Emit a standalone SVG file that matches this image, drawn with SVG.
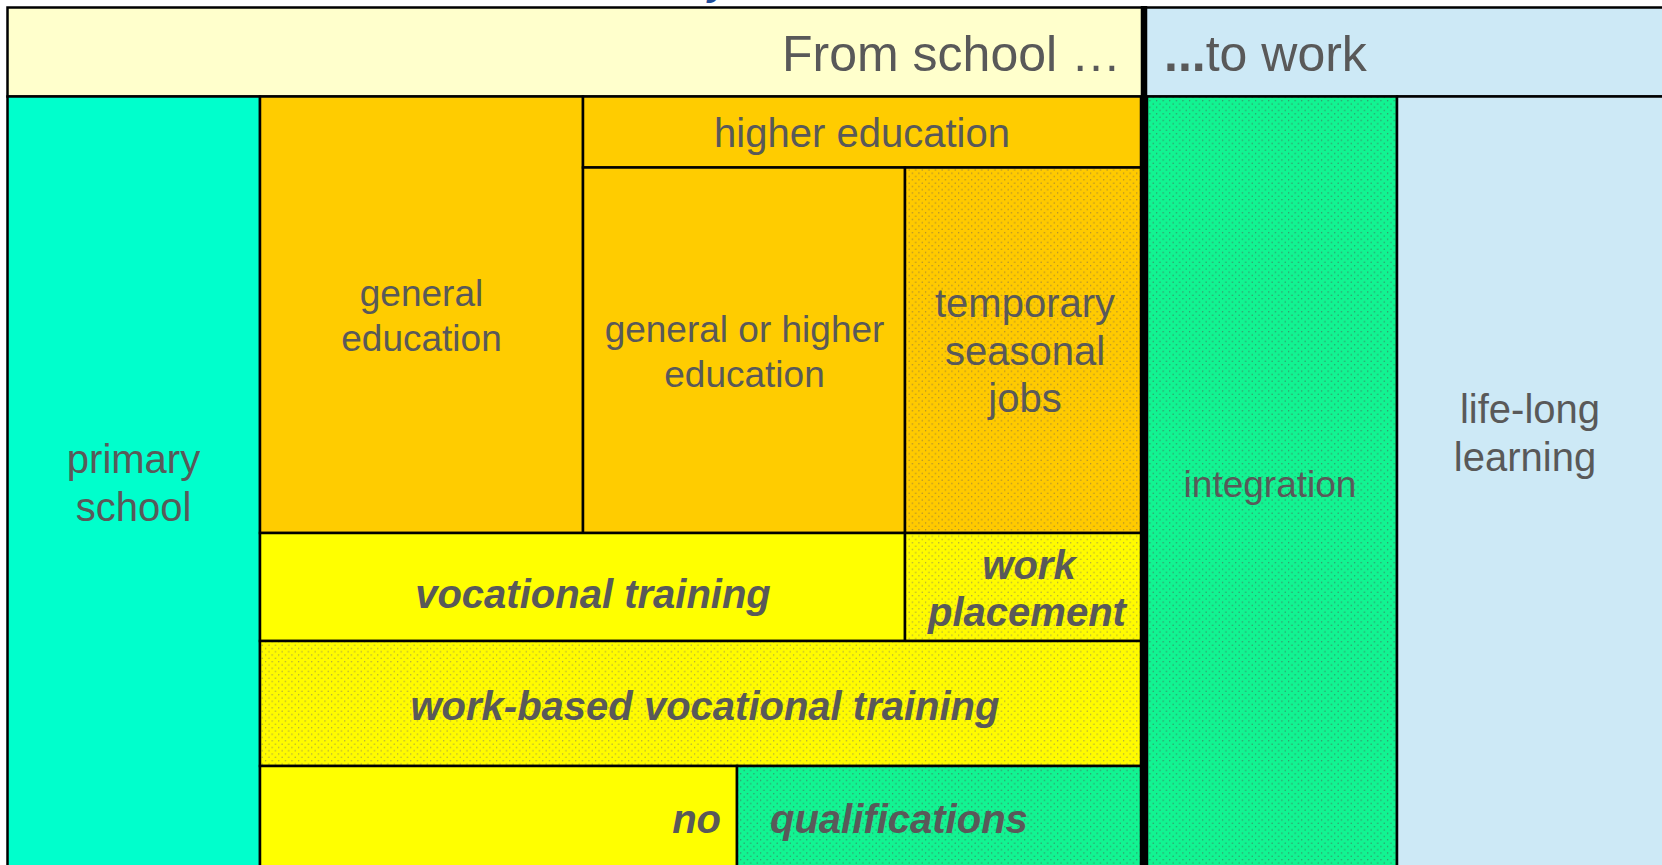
<svg xmlns="http://www.w3.org/2000/svg" width="1662" height="865" viewBox="0 0 1662 865">
<defs>
<pattern id="dotsO" width="6.6" height="6.6" patternUnits="userSpaceOnUse">
<rect width="6.6" height="6.6" fill="#FFCA00"/>
<circle cx="1.6" cy="1.6" r="0.65" fill="#9a7f38"/>
<circle cx="4.9" cy="4.9" r="0.65" fill="#9a7f38"/>
</pattern>
<pattern id="dotsY" width="6.6" height="6.6" patternUnits="userSpaceOnUse">
<rect width="6.6" height="6.6" fill="#FFFB00"/>
<circle cx="1.6" cy="1.6" r="0.65" fill="#9a964a"/>
<circle cx="4.9" cy="4.9" r="0.65" fill="#9a964a"/>
</pattern>
<pattern id="dotsG" width="6.6" height="6.6" patternUnits="userSpaceOnUse">
<rect width="6.6" height="6.6" fill="#12F492"/>
<circle cx="1.6" cy="1.6" r="0.65" fill="#3a8060"/>
<circle cx="4.9" cy="4.9" r="0.65" fill="#3a8060"/>
</pattern>
<style>
.box{stroke:#000;stroke-width:2.5}
.t{font-family:"Liberation Sans",Arial,sans-serif;fill:#595959;text-anchor:middle}
.n{font-size:37px}
.l{font-size:40px}
.h{font-size:50px}
.b{font-size:40px;font-weight:bold;font-style:italic}
</style>
</defs>
<rect width="1662" height="865" fill="#ffffff"/>
<text x="708" y="-5" style="font-family:'Liberation Sans',Arial,sans-serif;font-size:40px;font-weight:bold;font-style:italic;fill:#1F4E9A">y</text>

<g id="header-school">
<rect class="box" x="7.5" y="7.5" width="1136" height="89" fill="#FFFFCC"/>
<text class="t h" x="1121" y="71" style="text-anchor:end">From school …</text>
</g>
<g id="header-work">
<rect class="box" x="1144" y="7.5" width="530" height="89" fill="#CDE9F6"/>
<text class="t h" x="1164" y="71" style="text-anchor:start"><tspan font-weight="bold">...</tspan>to work</text>
</g>
<g id="primary-school">
<rect class="box" x="7.5" y="96.5" width="252.5" height="790" fill="#00FFCC"/>
<text class="t l" x="133.5" y="473">primary</text>
<text class="t l" x="133.5" y="521">school</text>
</g>
<g id="general-education">
<rect class="box" x="260" y="96.5" width="323" height="436.5" fill="#FFCC00"/>
<text class="t n" x="421.5" y="306">general</text>
<text class="t n" x="421.5" y="350.5">education</text>
</g>
<g id="higher-education">
<rect class="box" x="583" y="96.5" width="558" height="71" fill="#FFCC00"/>
<text class="t l" x="862" y="147">higher education</text>
</g>
<g id="general-or-higher">
<rect class="box" x="583" y="167.5" width="322" height="365.5" fill="#FFCC00"/>
<text class="t n" x="744.5" y="342">general or higher</text>
<text class="t n" x="744.5" y="387">education</text>
</g>
<g id="temporary-jobs">
<rect class="box" x="905" y="167.5" width="236" height="365.5" fill="url(#dotsO)"/>
<text class="t l" x="1025" y="317">temporary</text>
<text class="t l" x="1025" y="364.5">seasonal</text>
<text class="t l" x="1025" y="412">jobs</text>
</g>
<g id="vocational-training">
<rect class="box" x="260" y="533" width="645" height="108" fill="#FFFF00"/>
<text class="t b" x="593" y="608">vocational training</text>
</g>
<g id="work-placement">
<rect class="box" x="905" y="533" width="236" height="108" fill="url(#dotsY)"/>
<text class="t b" x="1029" y="579">work</text>
<text class="t b" x="1027" y="626">placement</text>
</g>
<g id="work-based-training">
<rect class="box" x="260" y="641" width="881" height="125" fill="url(#dotsY)"/>
<text class="t b" x="705" y="720">work-based vocational training</text>
</g>
<g id="no">
<rect class="box" x="260" y="766" width="477" height="120" fill="#FFFF00"/>
<text class="t b" x="721" y="833" style="text-anchor:end">no</text>
</g>
<g id="qualifications">
<rect class="box" x="737" y="766" width="404" height="120" fill="url(#dotsG)"/>
<text class="t b" x="770" y="833" style="text-anchor:start">qualifications</text>
</g>
<g id="integration">
<rect class="box" x="1147" y="96.5" width="250" height="790" fill="url(#dotsG)"/>
<text class="t n" x="1270" y="497">integration</text>
</g>
<g id="life-long-learning">
<rect class="box" x="1397" y="96.5" width="280" height="790" fill="#CDE9F6"/>
<text class="t l" x="1530" y="423">life-long</text>
<text class="t l" x="1525" y="471">learning</text>
</g>
<g id="connectors">
<line x1="1144" y1="6" x2="1144" y2="870" stroke="#000" stroke-width="6.5"/>
</g>
</svg>
